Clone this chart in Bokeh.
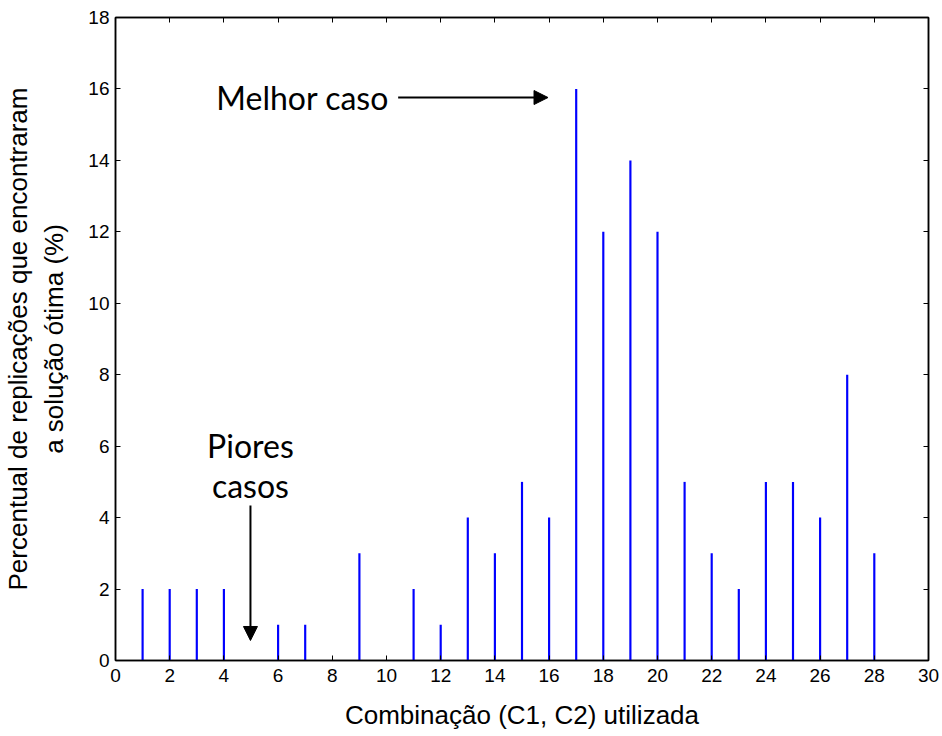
from bokeh.plotting import figure
from bokeh.models import (LinearAxis, Range1d, FixedTicker, Arrow, NormalHead, Label,
                          ColumnDataSource)
from bokeh.embed import file_html
from bokeh.resources import INLINE

combinacao = list(range(1, 29))
percentual = [2, 2, 2, 2, 0, 1, 1, 0, 3, 0, 2, 1, 4, 3, 5, 4, 16, 12, 14, 12,
              5, 3, 2, 5, 5, 4, 8, 3]
x_ticks = list(range(0, 31, 2))
y_ticks = list(range(0, 19, 2))

x_label = "Combinação (C1, C2) utilizada"
y_label = "Percentual de replicações que encontraram\na solução ótima (%)"

src = ColumnDataSource(dict(x=combinacao, top=percentual))

p = figure(width=940, height=736, output_backend="svg", toolbar_location=None,
           x_range=Range1d(0, 30), y_range=Range1d(0, 18),
           min_border_left=114, min_border_right=12, min_border_top=17,
           min_border_bottom=76, background_fill_color="white",
           border_fill_color="white")
p.grid.visible = False
p.outline_line_color = "black"
p.outline_line_width = 1.5

p.vbar(x="x", top="top", width=0.08, bottom=0, source=src,
       fill_color="#0000FF", line_color=None)

def style(ax):
    ax.major_tick_in = 5
    ax.major_tick_out = 0
    ax.minor_tick_line_color = None
    ax.axis_line_width = 1.5
    ax.axis_line_color = "black"
    ax.major_tick_line_color = "black"
    ax.major_label_text_font = "Liberation Sans"
    ax.major_label_text_font_size = "19px"
    ax.major_label_text_color = "black"
    ax.axis_label_text_font = "Liberation Sans"
    ax.axis_label_text_font_size = "26px"
    ax.axis_label_text_font_style = "normal"
    ax.axis_label_text_color = "black"

xa = p.xaxis[0]
ya = p.yaxis[0]
xa.ticker = FixedTicker(ticks=x_ticks)
ya.ticker = FixedTicker(ticks=y_ticks)
style(xa)
style(ya)
xa.axis_label = x_label
ya.axis_label = y_label
xa.major_label_standoff = 8
ya.major_label_standoff = 6
xa.axis_label_standoff = 15
ya.axis_label_standoff = 16

top_ax = LinearAxis(ticker=FixedTicker(ticks=x_ticks),
                    major_label_overrides={t: "" for t in x_ticks})
right_ax = LinearAxis(ticker=FixedTicker(ticks=y_ticks),
                      major_label_overrides={t: "" for t in y_ticks})
style(top_ax)
style(right_ax)
top_ax.major_label_standoff = 0
right_ax.major_label_standoff = 0
p.add_layout(top_ax, "above")
p.add_layout(right_ax, "right")

# annotations
p.add_layout(Label(x=3.72, y=15.76, text="Melhor caso", text_font="Lato",
                   text_font_size="32px", text_baseline="middle", text_align="left",
                   text_color="black"))
p.add_layout(Arrow(x_start=10.43, y_start=15.76, x_end=15.96, y_end=15.76,
                   line_width=2, line_color="black",
                   end=NormalHead(size=14, fill_color="black", line_color="black")))
p.add_layout(Label(x=4.98, y=6.02, text="Piores", text_font="Lato",
                   text_font_size="32px", text_baseline="middle", text_align="center",
                   text_color="black"))
p.add_layout(Label(x=4.98, y=4.9, text="casos", text_font="Lato",
                   text_font_size="32px", text_baseline="middle", text_align="center",
                   text_color="black"))
p.add_layout(Arrow(x_start=4.98, y_start=4.34, x_end=4.98, y_end=0.56,
                   line_width=2, line_color="black",
                   end=NormalHead(size=14, fill_color="black", line_color="black")))

open("out.html", "w").write(file_html(p, INLINE))
